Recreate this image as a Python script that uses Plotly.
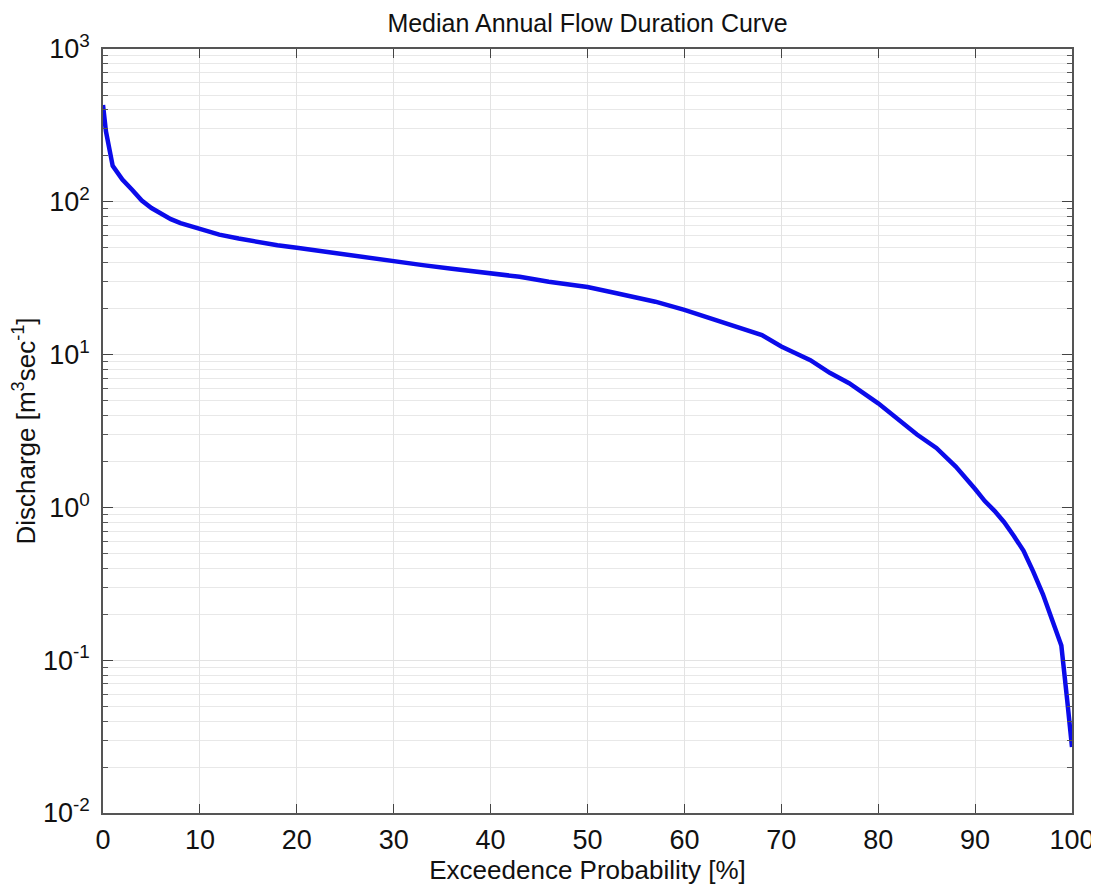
import plotly.graph_objects as go

# Exceedence probability [%] and median annual discharge [m3/s]
exceedence = [0, 0.3, 1, 2, 3, 4, 5, 6, 7, 8, 10, 12, 14, 16, 18, 20, 22, 25, 28, 30,
              33, 36, 40, 43, 46, 50, 53, 55, 57, 60, 62, 65, 68, 70, 73, 75, 77,
              80, 82, 84, 86, 88, 90, 91, 92, 93, 94, 95, 96, 97, 98, 98.9, 99.5, 100]
discharge = [430, 290, 172, 140, 120, 102, 91, 83, 77, 72.5, 66, 61, 57.5, 54.5, 52, 50, 48, 45.5, 42.5, 40.5,
             38.5, 36.5, 34, 32.3, 30, 27.7, 25.2, 23.6, 22.2, 19.6, 17.9, 15.6, 13.4, 11.3, 9.2, 7.6, 6.5,
             4.8, 3.8, 3.0, 2.45, 1.85, 1.32, 1.1, 0.95, 0.8, 0.65, 0.52, 0.38, 0.27, 0.18, 0.125, 0.055, 0.027]

y_tickvals = [0.01, 0.1, 1, 10, 100, 1000]
y_ticktext = ["10<sup>-2</sup>", "10<sup>-1</sup>", "10<sup>0</sup>", "10<sup>1</sup>", "10<sup>2</sup>", "10<sup>3</sup>"]
x_tickvals = [0, 10, 20, 30, 40, 50, 60, 70, 80, 90, 100]

fig = go.Figure()
fig.add_trace(go.Scatter(
    x=exceedence, y=discharge, mode="lines",
    line=dict(color="#0b0bea", width=4.5),
    showlegend=False,
))

font_family = "Liberation Sans, Arial, sans-serif"
fig.update_layout(
    width=1091, height=878,
    margin=dict(l=95, r=27, t=41, b=73),
    paper_bgcolor="white", plot_bgcolor="white",
    font=dict(family=font_family, color="black"),
    title=dict(text="Median Annual Flow Duration Curve", xref="paper", x=0.5, xanchor="center",
               yref="container", y=1 - 15 / 878, yanchor="middle", font=dict(size=25, color="#111")),
)
fig.update_xaxes(
    range=[0, 100], tickvals=x_tickvals, ticks="inside", ticklen=9, tickwidth=1.2,
    tickcolor="#444", showline=True, linecolor="#555", linewidth=1.5, mirror="ticks",
    showgrid=True, gridcolor="#e3e3e3", gridwidth=1, zeroline=False, automargin=False,
    tickfont=dict(size=27, color="#111"), ticklabelstandoff=2,
    title=dict(text="Exceedence Probability [%]", font=dict(size=26, color="#111"), standoff=0),
)
fig.update_yaxes(
    type="log", range=[-2, 3], tickvals=y_tickvals, ticktext=y_ticktext,
    ticks="inside", ticklen=10, tickwidth=1.2, tickcolor="#444",
    showline=True, linecolor="#555", linewidth=1.5, mirror="ticks",
    showgrid=True, gridcolor="#e3e3e3", gridwidth=1, zeroline=False, automargin=False,
    tickfont=dict(size=27, color="#111"), ticklabelstandoff=6,
    minor=dict(dtick="D1", ticks="inside", ticklen=5, tickcolor="#555", showgrid=True,
               gridcolor="#e8e8e8", gridwidth=1),
    title=dict(text="Discharge [m<sup>3</sup>sec<sup>-1</sup>]", font=dict(size=26, color="#111"), standoff=0),
)

fig.write_html("out.html")
